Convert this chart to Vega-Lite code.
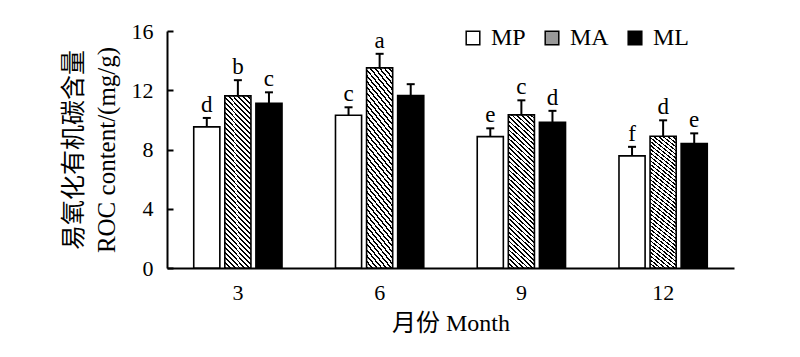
{
  "$schema": "https://vega.github.io/schema/vega-lite/v6.json",
  "width": 567,
  "height": 237,
  "autosize": "none",
  "padding": {"left": 167, "top": 31, "right": 66, "bottom": 89},
  "background": "white",
  "config": {"font": "Liberation Serif", "view": {"stroke": null}},
  "data": {"values": [
    {"month": 3, "series": "MP", "value": 9.53, "upper": 10.13, "letter": "d"},
    {"month": 3, "series": "MA", "value": 11.62, "upper": 12.68, "letter": "b"},
    {"month": 3, "series": "ML", "value": 11.12, "upper": 11.86, "letter": "c"},
    {"month": 6, "series": "MP", "value": 10.31, "upper": 10.85, "letter": "c"},
    {"month": 6, "series": "MA", "value": 13.51, "upper": 14.46, "letter": "a"},
    {"month": 6, "series": "ML", "value": 11.64, "upper": 12.41, "letter": ""},
    {"month": 9, "series": "MP", "value": 8.87, "upper": 9.43, "letter": "e"},
    {"month": 9, "series": "MA", "value": 10.34, "upper": 11.32, "letter": "c"},
    {"month": 9, "series": "ML", "value": 9.84, "upper": 10.61, "letter": "d"},
    {"month": 12, "series": "MP", "value": 7.57, "upper": 8.18, "letter": "f"},
    {"month": 12, "series": "MA", "value": 8.89, "upper": 9.97, "letter": "d"},
    {"month": 12, "series": "ML", "value": 8.40, "upper": 9.09, "letter": "e"}
  ]},
  "encoding": {
    "x": {"field": "month", "type": "ordinal", "sort": [3, 6, 9, 12],
      "scale": {"paddingInner": 0, "paddingOuter": 0},
      "axis": {"title": "月份 Month", "labelAngle": 0, "ticks": false, "labelFontSize": 22, "labelColor": "black", "labelPadding": 14,
        "domainColor": "black", "domainWidth": 2, "titleFontSize": 24, "titleFontWeight": "normal", "titleColor": "black",
        "titleFont": "Liberation Serif, Noto Sans CJK SC", "titlePadding": 8}},
    "xOffset": {"field": "series", "sort": ["MP", "MA", "ML"], "scale": {"paddingInner": 0.16, "paddingOuter": 0.86}}
  },
  "layer": [
    {"mark": {"type": "bar", "stroke": "black", "strokeWidth": 1.6},
     "encoding": {
       "y": {"field": "value", "type": "quantitative", "scale": {"domain": [0, 16]},
         "axis": {"values": [0, 4, 8, 12, 16], "tickSize": -6, "tickWidth": 2, "tickColor": "black", "domainColor": "black", "domainWidth": 2,
           "labelFontSize": 22, "labelColor": "black", "labelPadding": 20, "grid": false,
           "title": ["易氧化有机碳含量", "ROC content/(mg/g)"], "titleFontSize": 25, "titleFontWeight": "normal", "titleColor": "black",
           "titleFont": "Liberation Serif, Noto Sans CJK SC", "titlePadding": 12, "titleLineHeight": 33}},
       "fill": {
         "condition": {"test": "datum.series === 'MA'", "value": {"gradient": "linear", "x1": 1, "y1": 0, "x2": 0.819, "y2": 1.131, "stops": [
{"offset":0,"color":"#fff"},{"offset":0.0155,"color":"#fff"},{"offset":0.0155,"color":"#000"},{"offset":0.025,"color":"#000"},
{"offset":0.025,"color":"#fff"},{"offset":0.0405,"color":"#fff"},{"offset":0.0405,"color":"#000"},{"offset":0.05,"color":"#000"},
{"offset":0.05,"color":"#fff"},{"offset":0.0655,"color":"#fff"},{"offset":0.0655,"color":"#000"},{"offset":0.075,"color":"#000"},
{"offset":0.075,"color":"#fff"},{"offset":0.0905,"color":"#fff"},{"offset":0.0905,"color":"#000"},{"offset":0.1,"color":"#000"},
{"offset":0.1,"color":"#fff"},{"offset":0.1155,"color":"#fff"},{"offset":0.1155,"color":"#000"},{"offset":0.125,"color":"#000"},
{"offset":0.125,"color":"#fff"},{"offset":0.1405,"color":"#fff"},{"offset":0.1405,"color":"#000"},{"offset":0.15,"color":"#000"},
{"offset":0.15,"color":"#fff"},{"offset":0.1655,"color":"#fff"},{"offset":0.1655,"color":"#000"},{"offset":0.175,"color":"#000"},
{"offset":0.175,"color":"#fff"},{"offset":0.1905,"color":"#fff"},{"offset":0.1905,"color":"#000"},{"offset":0.2,"color":"#000"},
{"offset":0.2,"color":"#fff"},{"offset":0.2155,"color":"#fff"},{"offset":0.2155,"color":"#000"},{"offset":0.225,"color":"#000"},
{"offset":0.225,"color":"#fff"},{"offset":0.2405,"color":"#fff"},{"offset":0.2405,"color":"#000"},{"offset":0.25,"color":"#000"},
{"offset":0.25,"color":"#fff"},{"offset":0.2655,"color":"#fff"},{"offset":0.2655,"color":"#000"},{"offset":0.275,"color":"#000"},
{"offset":0.275,"color":"#fff"},{"offset":0.2905,"color":"#fff"},{"offset":0.2905,"color":"#000"},{"offset":0.3,"color":"#000"},
{"offset":0.3,"color":"#fff"},{"offset":0.3155,"color":"#fff"},{"offset":0.3155,"color":"#000"},{"offset":0.325,"color":"#000"},
{"offset":0.325,"color":"#fff"},{"offset":0.3405,"color":"#fff"},{"offset":0.3405,"color":"#000"},{"offset":0.35,"color":"#000"},
{"offset":0.35,"color":"#fff"},{"offset":0.3655,"color":"#fff"},{"offset":0.3655,"color":"#000"},{"offset":0.375,"color":"#000"},
{"offset":0.375,"color":"#fff"},{"offset":0.3905,"color":"#fff"},{"offset":0.3905,"color":"#000"},{"offset":0.4,"color":"#000"},
{"offset":0.4,"color":"#fff"},{"offset":0.4155,"color":"#fff"},{"offset":0.4155,"color":"#000"},{"offset":0.425,"color":"#000"},
{"offset":0.425,"color":"#fff"},{"offset":0.4405,"color":"#fff"},{"offset":0.4405,"color":"#000"},{"offset":0.45,"color":"#000"},
{"offset":0.45,"color":"#fff"},{"offset":0.4655,"color":"#fff"},{"offset":0.4655,"color":"#000"},{"offset":0.475,"color":"#000"},
{"offset":0.475,"color":"#fff"},{"offset":0.4905,"color":"#fff"},{"offset":0.4905,"color":"#000"},{"offset":0.5,"color":"#000"},
{"offset":0.5,"color":"#fff"},{"offset":0.5155,"color":"#fff"},{"offset":0.5155,"color":"#000"},{"offset":0.525,"color":"#000"},
{"offset":0.525,"color":"#fff"},{"offset":0.5405,"color":"#fff"},{"offset":0.5405,"color":"#000"},{"offset":0.55,"color":"#000"},
{"offset":0.55,"color":"#fff"},{"offset":0.5655,"color":"#fff"},{"offset":0.5655,"color":"#000"},{"offset":0.575,"color":"#000"},
{"offset":0.575,"color":"#fff"},{"offset":0.5905,"color":"#fff"},{"offset":0.5905,"color":"#000"},{"offset":0.6,"color":"#000"},
{"offset":0.6,"color":"#fff"},{"offset":0.6155,"color":"#fff"},{"offset":0.6155,"color":"#000"},{"offset":0.625,"color":"#000"},
{"offset":0.625,"color":"#fff"},{"offset":0.6405,"color":"#fff"},{"offset":0.6405,"color":"#000"},{"offset":0.65,"color":"#000"},
{"offset":0.65,"color":"#fff"},{"offset":0.6655,"color":"#fff"},{"offset":0.6655,"color":"#000"},{"offset":0.675,"color":"#000"},
{"offset":0.675,"color":"#fff"},{"offset":0.6905,"color":"#fff"},{"offset":0.6905,"color":"#000"},{"offset":0.7,"color":"#000"},
{"offset":0.7,"color":"#fff"},{"offset":0.7155,"color":"#fff"},{"offset":0.7155,"color":"#000"},{"offset":0.725,"color":"#000"},
{"offset":0.725,"color":"#fff"},{"offset":0.7405,"color":"#fff"},{"offset":0.7405,"color":"#000"},{"offset":0.75,"color":"#000"},
{"offset":0.75,"color":"#fff"},{"offset":0.7655,"color":"#fff"},{"offset":0.7655,"color":"#000"},{"offset":0.775,"color":"#000"},
{"offset":0.775,"color":"#fff"},{"offset":0.7905,"color":"#fff"},{"offset":0.7905,"color":"#000"},{"offset":0.8,"color":"#000"},
{"offset":0.8,"color":"#fff"},{"offset":0.8155,"color":"#fff"},{"offset":0.8155,"color":"#000"},{"offset":0.825,"color":"#000"},
{"offset":0.825,"color":"#fff"},{"offset":0.8405,"color":"#fff"},{"offset":0.8405,"color":"#000"},{"offset":0.85,"color":"#000"},
{"offset":0.85,"color":"#fff"},{"offset":0.8655,"color":"#fff"},{"offset":0.8655,"color":"#000"},{"offset":0.875,"color":"#000"},
{"offset":0.875,"color":"#fff"},{"offset":0.8905,"color":"#fff"},{"offset":0.8905,"color":"#000"},{"offset":0.9,"color":"#000"},
{"offset":0.9,"color":"#fff"},{"offset":0.9155,"color":"#fff"},{"offset":0.9155,"color":"#000"},{"offset":0.925,"color":"#000"},
{"offset":0.925,"color":"#fff"},{"offset":0.9405,"color":"#fff"},{"offset":0.9405,"color":"#000"},{"offset":0.95,"color":"#000"},
{"offset":0.95,"color":"#fff"},{"offset":0.9655,"color":"#fff"},{"offset":0.9655,"color":"#000"},{"offset":0.975,"color":"#000"},
{"offset":0.975,"color":"#fff"},{"offset":0.9905,"color":"#fff"},{"offset":0.9905,"color":"#000"},{"offset":1,"color":"#000"}
         ]}},
         "field": "series", "type": "nominal",
         "scale": {"domain": ["MP", "MA", "ML"], "range": ["white", "#999999", "black"]},
         "legend": {"orient": "none", "legendX": 294, "legendY": -5, "direction": "horizontal", "title": null,
           "symbolType": "square", "symbolSize": 185, "symbolStrokeColor": "black", "symbolStrokeWidth": 1.5,
           "labelFontSize": 24, "labelFont": "Liberation Serif", "labelColor": "black", "labelOffset": 6, "columnPadding": 14, "padding": 0,
           "encode": {"symbols": {"update": {
             "fill": {"condition": [
               {"test": "datum.value === 'MA'", "value": {"gradient": "linear", "x1": 1, "y1": 0, "x2": 0, "y2": 1, "stops": [
                 {"offset":0,"color":"#fff"},{"offset":0.12,"color":"#fff"},{"offset":0.12,"color":"#000"},{"offset":0.2,"color":"#000"},
                 {"offset":0.2,"color":"#fff"},{"offset":0.32,"color":"#fff"},{"offset":0.32,"color":"#000"},{"offset":0.4,"color":"#000"},
                 {"offset":0.4,"color":"#fff"},{"offset":0.52,"color":"#fff"},{"offset":0.52,"color":"#000"},{"offset":0.6,"color":"#000"},
                 {"offset":0.6,"color":"#fff"},{"offset":0.72,"color":"#fff"},{"offset":0.72,"color":"#000"},{"offset":0.8,"color":"#000"},
                 {"offset":0.8,"color":"#fff"},{"offset":0.92,"color":"#fff"},{"offset":0.92,"color":"#000"},{"offset":1,"color":"#000"}
               ]}},
               {"test": "datum.value === 'MP'", "value": "white"}
             ], "value": "black"},
             "stroke": {"value": "black"},
             "strokeWidth": {"value": 1.5},
             "opacity": {"value": 1}
           }}}}
       }
     }},
    {"mark": {"type": "rule", "strokeWidth": 2, "color": "black"},
     "encoding": {"y": {"field": "value", "type": "quantitative"}, "y2": {"field": "upper"}}},
    {"mark": {"type": "tick", "thickness": 2, "size": 8, "color": "black", "opacity": 1},
     "encoding": {"y": {"field": "upper", "type": "quantitative"}}},
    {"mark": {"type": "text", "fontSize": 23, "baseline": "alphabetic", "dy": -6, "color": "black", "font": "Liberation Serif"},
     "encoding": {"y": {"field": "upper", "type": "quantitative"}, "text": {"field": "letter"}}}
  ]
}
